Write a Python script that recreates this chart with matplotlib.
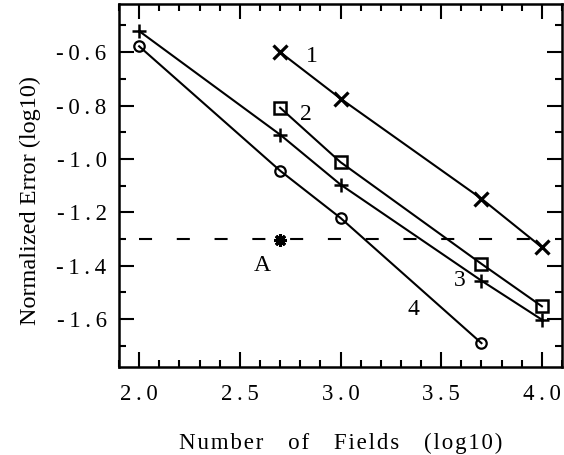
#!/usr/bin/python
# coding=utf-8
''' normalized error vs number of fields, log-log '''
import matplotlib
matplotlib.use('Agg')
import matplotlib.pyplot as plt
from matplotlib.ticker import MultipleLocator, FuncFormatter

plt.rcParams['font.family'] = ['Liberation Serif', 'DejaVu Serif']
plt.rcParams['lines.scale_dashes'] = False

# curve 1 (x), 2 (square), 3 (plus), 4 (circle)
x1 = [2.7, 3.0, 3.7, 4.0]
y1 = [-0.60, -0.774, -1.149, -1.331]
x2 = [2.7, 3.0, 3.7, 4.0]
y2 = [-0.808, -1.012, -1.393, -1.552]
x3 = [2.0, 2.7, 3.0, 3.7, 4.0]
y3 = [-0.521, -0.909, -1.096, -1.456, -1.602]
x4 = [2.0, 2.7, 3.0, 3.7]
y4 = [-0.578, -1.044, -1.221, -1.690]
# point A and its reference level
xa, ya = 2.7, -1.302
ref_x = [2.0, 4.0]
ref_y = [-1.30, -1.30]

curve_labels = ['1', '2', '3', '4', 'A']
label_pos = [(2.86, -0.615), (2.83, -0.834), (3.59, -1.456), (3.36, -1.565), (2.61, -1.40)]

THIN = '\u2009'
HAIR = '\u200a'


def spaced(v, pos):
    ''' tick text with wide letter spacing like the original '''
    return THIN.join('%.1f' % v)


def letterspace(s):
    return HAIR.join(s)


fig = plt.figure(figsize=(5.64, 4.55), dpi=100)
ax = fig.add_axes([0.211, 0.193, 0.7855, 0.798])

lw = 1.5
kw = dict(color='black', lw=lw, mfc='none', mec='black')
ax.plot(x1, y1, marker='x', ms=9.5, mew=2.3, **kw)
ax.plot(x2, y2, marker='s', ms=8.5, mew=1.8, **kw)
ax.plot(x3, y3, marker='+', ms=10, mew=1.8, **kw)
ax.plot(x4, y4, marker='o', ms=7.5, mew=1.6, **kw)
ax.plot(ref_x, ref_y, color='black', lw=1.5, dashes=(9.4, 17.8))
ax.plot([xa], [ya], marker=(8, 2, 0), ms=9, mew=2.2, color='black', ls='none')

for txt, (tx, ty) in zip(curve_labels, label_pos):
    ax.text(tx, ty, txt, fontsize=17, ha='center', va='center')

ax.set_xlim(1.9, 4.1)
ax.set_ylim(-1.78, -0.42)
ax.xaxis.set_major_locator(MultipleLocator(0.5))
ax.xaxis.set_minor_locator(MultipleLocator(0.1))
ax.yaxis.set_major_locator(MultipleLocator(0.2))
ax.yaxis.set_minor_locator(MultipleLocator(0.1))
ax.xaxis.set_major_formatter(FuncFormatter(spaced))
ax.yaxis.set_major_formatter(FuncFormatter(spaced))
ax.tick_params(which='both', direction='in', top=True, right=True, width=1.5,
               labelsize=16.5)
ax.tick_params(which='major', length=10.5, pad=9)
ax.tick_params(axis='x', which='major', pad=12)
ax.tick_params(which='minor', length=5)
for sp in ax.spines.values():
    sp.set_linewidth(1.8)

ax.set_xlabel(letterspace('Number   of   Fields   (log10)'), fontsize=16.5, labelpad=20)
ax.set_ylabel('Normalized Error (log10)', fontsize=17.5)
ax.yaxis.set_label_coords(-0.175, 0.458)

fig.savefig('out.png', dpi=100)
